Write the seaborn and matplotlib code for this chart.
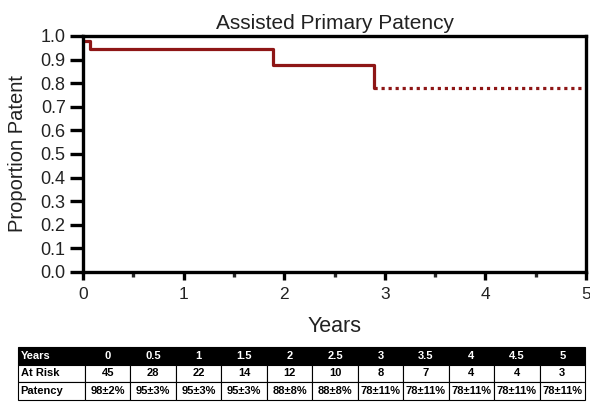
import matplotlib
matplotlib.use("Agg")
import matplotlib.pyplot as plt
import seaborn as sns
import pandas as pd

sns.set_theme(style="white")
plt.rcParams['font.family'] = ['Liberation Sans', 'DejaVu Sans']

# Data
step_times = [0.0, 0.07, 1.89, 2.89]
step_values = [0.98, 0.945, 0.875, 0.78]
censor_end_time = 5.0
table_years = ["0", "0.5", "1", "1.5", "2", "2.5", "3", "3.5", "4", "4.5", "5"]
at_risk = ["45", "28", "22", "14", "12", "10", "8", "7", "4", "4", "3"]
patency = ["98±2%", "95±3%", "95±3%", "95±3%", "88±8%", "88±8%",
           "78±11%", "78±11%", "78±11%", "78±11%", "78±11%"]

color = "#8e1616"
text_color = "#222222"

fig = plt.figure(figsize=(5.9, 4.03), dpi=100)
ax = fig.add_axes([83/590, 1-272/403, (586-83)/590, (272-36)/403])

solid = pd.DataFrame({"t": step_times, "s": step_values})
sns.lineplot(data=solid, x="t", y="s", drawstyle="steps-post", estimator=None,
             color=color, linewidth=2.3, ax=ax)
dotted = pd.DataFrame({"t": [step_times[-1], censor_end_time],
                       "s": [step_values[-1], step_values[-1]]})
sns.lineplot(data=dotted, x="t", y="s", estimator=None, color=color,
             linewidth=2.3, linestyle=(0, (1, 1.2)), ax=ax)

ax.set_xlim(0, 5)
ax.set_ylim(0, 1.0)
ax.set_xticks([0, 1, 2, 3, 4, 5])
ax.set_xticks([0.5, 1.5, 2.5, 3.5, 4.5], minor=True)
ax.set_yticks([i/10 for i in range(11)])
ax.set_yticklabels([f"{i/10:.1f}" for i in range(11)])
for sp in ax.spines.values():
    sp.set_visible(True)
    sp.set_color("black")
    sp.set_linewidth(2.4)
ax.tick_params(axis="y", which="major", direction="out", length=9.5, width=2.4,
               labelsize=13, colors="black", labelcolor=text_color, left=True, pad=3)
ax.tick_params(axis="x", which="major", direction="out", length=6, width=2.4,
               labelsize=12.5, colors="black", labelcolor=text_color, bottom=True, pad=5)
ax.tick_params(axis="x", which="minor", direction="out", length=3.5, width=2.4,
               bottom=True)
ax.set_xlabel("Years", fontsize=15.5, labelpad=10, color=text_color)
ax.set_ylabel("Proportion Patent", fontsize=14.5, labelpad=10, color=text_color)
ax.set_title("Assisted Primary Patency", fontsize=15, pad=5, color=text_color)

# Table
tax = fig.add_axes([18/590, 1-400/403, (585-18)/590, (400-347)/403])
tax.axis("off")
cells = [["Years"] + table_years, ["At Risk"] + at_risk, ["Patency"] + patency]
first_w = 67/567
other_w = (1 - first_w) / 11
tbl = tax.table(cellText=cells, loc="center", bbox=[0, 0, 1, 1],
                colWidths=[first_w] + [other_w]*11, cellLoc="center")
tbl.auto_set_font_size(False)
for (r, c), cell in tbl.get_celld().items():
    cell.set_edgecolor("black")
    cell.set_linewidth(0.8)
    txt = cell.get_text()
    txt.set_fontsize(8)
    txt.set_fontweight("bold")
    if c == 0:
        txt.set_ha("left")
        cell.PAD = 0.04
    if r == 0:
        cell.set_facecolor("black")
        txt.set_color("white")
    else:
        cell.set_facecolor("white")
        txt.set_color("black")

fig.savefig("out.png", dpi=100)
